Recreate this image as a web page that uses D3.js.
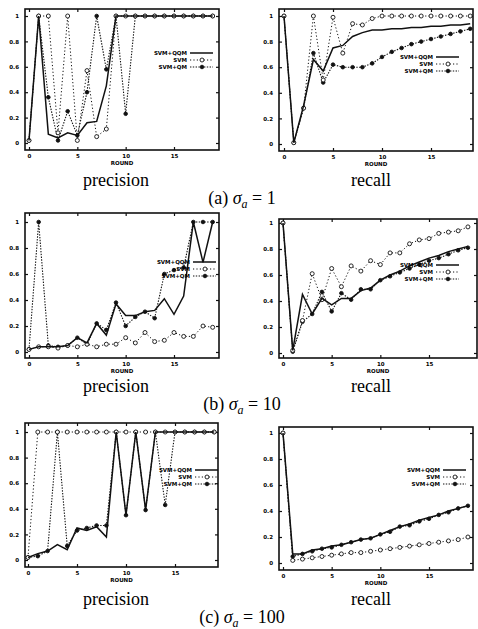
<!DOCTYPE html>
<html>
<head>
<meta charset="utf-8">
<script src="https://cdn.jsdelivr.net/npm/d3@7"></script>
<style>
  body { margin: 0; background: #fff; }
  .tick text { font-family: "DejaVu Sans", sans-serif; font-weight: bold; font-size: 5.5px; }
  .caption { font-family: "Liberation Serif", "DejaVu Serif", serif; font-size: 18px; }
</style>
</head>
<body>
<div class="figure"></div>
<script>
const rounds = [0, 1, 2, 3, 4, 5, 6, 7, 8, 9, 10, 11, 12, 13, 14, 15, 16, 17, 18, 19];
const yTicks = [0, 0.2, 0.4, 0.6, 0.8, 1];
const xTicks = [0, 5, 10, 15];
const seriesNames = ["SVM+QQM", "SVM", "SVM+QM"];

// (a) sigma = 1
const precA_qqm = [0.02, 1.0, 0.07, 0.04, 0.08, 0.06, 0.16, 0.17, 0.45, 1.0, 1.0, 1.0, 1.0, 1.0, 1.0, 1.0, 1.0, 1.0, 1.0, 1.0];
const precA_svm = [0.02, 1.0, 1.0, 0.08, 1.0, 0.02, 0.57, 0.05, 0.11, 1.0, 1.0, 1.0, 1.0, 1.0, 1.0, 1.0, 1.0, 1.0, 1.0, 1.0];
const precA_qm  = [0.02, 1.0, 0.36, 0.02, 0.25, 0.06, 0.40, 1.0, 0.58, 1.0, 0.23, 1.0, 1.0, 1.0, 1.0, 1.0, 1.0, 1.0, 1.0, 1.0];
const recA_qqm  = [1.0, 0.01, 0.30, 0.66, 0.57, 0.75, 0.77, 0.84, 0.87, 0.89, 0.89, 0.90, 0.90, 0.91, 0.91, 0.92, 0.92, 0.93, 0.93, 0.94];
const recA_svm  = [1.0, 0.01, 0.28, 1.0, 0.50, 0.99, 0.71, 0.94, 0.93, 0.98, 1.0, 1.0, 1.0, 1.0, 1.0, 1.0, 1.0, 1.0, 1.0, 1.0];
const recA_qm   = [1.0, 0.01, 0.28, 0.71, 0.48, 0.62, 0.60, 0.60, 0.60, 0.63, 0.68, 0.72, 0.75, 0.78, 0.80, 0.82, 0.84, 0.86, 0.88, 0.90];

// (b) sigma = 10
const precB_qqm = [0.02, 0.04, 0.04, 0.04, 0.05, 0.11, 0.07, 0.22, 0.13, 0.37, 0.28, 0.28, 0.31, 0.32, 0.41, 0.29, 0.43, 1.0, 0.69, 1.0];
const precB_svm = [0.02, 0.04, 0.04, 0.03, 0.05, 0.04, 0.06, 0.04, 0.06, 0.06, 0.11, 0.07, 0.15, 0.08, 0.09, 0.15, 0.12, 0.12, 0.20, 0.19];
const precB_qm  = [0.02, 1.0, 0.05, 0.04, 0.05, 0.11, 0.06, 0.22, 0.17, 0.38, 0.20, 0.27, 0.31, 0.26, 0.60, 0.63, 0.65, 1.0, 1.0, 1.0];
const recB_qqm  = [1.0, 0.02, 0.45, 0.30, 0.42, 0.37, 0.42, 0.42, 0.48, 0.50, 0.56, 0.60, 0.63, 0.67, 0.70, 0.73, 0.75, 0.78, 0.80, 0.82];
const recB_svm  = [1.0, 0.02, 0.25, 0.61, 0.41, 0.65, 0.51, 0.67, 0.63, 0.71, 0.68, 0.77, 0.77, 0.84, 0.87, 0.88, 0.92, 0.93, 0.94, 0.97];
const recB_qm   = [1.0, 0.01, 0.24, 0.30, 0.47, 0.32, 0.46, 0.41, 0.49, 0.49, 0.56, 0.59, 0.62, 0.65, 0.68, 0.71, 0.73, 0.76, 0.79, 0.81];

// (c) sigma = 100
const precC_qqm = [0.02, 0.05, 0.07, 0.12, 0.08, 0.25, 0.23, 0.26, 0.18, 1.0, 0.35, 1.0, 0.39, 1.0, 1.0, 1.0, 1.0, 1.0, 1.0, 1.0];
const precC_svm = [0.02, 1.0, 1.0, 1.0, 1.0, 1.0, 1.0, 1.0, 1.0, 1.0, 1.0, 1.0, 1.0, 1.0, 1.0, 1.0, 1.0, 1.0, 1.0, 1.0];
const precC_qm  = [0.02, 0.03, 0.07, 1.0, 0.11, 0.23, 0.25, 0.27, 0.27, 1.0, 0.35, 1.0, 0.39, 1.0, 0.43, 1.0, 1.0, 1.0, 1.0, 1.0];
const recC_qqm  = [1.0, 0.07, 0.07, 0.10, 0.11, 0.13, 0.14, 0.16, 0.18, 0.19, 0.22, 0.25, 0.28, 0.30, 0.33, 0.35, 0.37, 0.40, 0.42, 0.44];
const recC_svm  = [1.0, 0.02, 0.03, 0.04, 0.05, 0.06, 0.07, 0.08, 0.08, 0.09, 0.10, 0.11, 0.12, 0.13, 0.14, 0.15, 0.16, 0.17, 0.18, 0.20];
const recC_qm   = [1.0, 0.05, 0.07, 0.09, 0.11, 0.12, 0.14, 0.16, 0.18, 0.19, 0.22, 0.24, 0.28, 0.29, 0.32, 0.34, 0.37, 0.39, 0.42, 0.44];

const panels = [
  { series: [precA_qqm, precA_svm, precA_qm], left: 25, right: 219, top: 9, bottom: 150, x0: 29, x15: 174, y0: 143, y1: 16, legX: 187, legY: 53 },
  { series: [recA_qqm, recA_svm, recA_qm], left: 279, right: 473, top: 9, bottom: 151, x0: 284, x15: 431, y0: 144, y1: 16, legX: 433, legY: 57 },
  { series: [precB_qqm, precB_svm, precB_qm], left: 25, right: 219, top: 213, bottom: 358, x0: 29, x15: 174, y0: 352, y1: 222, legX: 190, legY: 262 },
  { series: [recB_qqm, recB_svm, recB_qm], left: 279, right: 477, top: 219, bottom: 358, x0: 283, x15: 429, y0: 353, y1: 223, legX: 433, legY: 265 },
  { series: [precC_qqm, precC_svm, precC_qm], left: 25, right: 218, top: 423, bottom: 567, x0: 28, x15: 175, y0: 560, y1: 432, legX: 192, legY: 470 },
  { series: [recC_qqm, recC_svm, recC_qm], left: 279, right: 473, top: 427, bottom: 570, x0: 283, x15: 429, y0: 563, y1: 433, legX: 440, legY: 470 }
];

const captions = [
  { sub: "1", y: 186 },
  { sub: "10", y: 392 },
  { sub: "100", y: 605 }
];
const captionLetters = ["(a)", "(b)", "(c)"];

const styles = [
  { dash: null, width: 1.5, marker: null },
  { dash: "1.2,2.2", width: 1, marker: "open" },
  { dash: "1.4,1.4", width: 1.1, marker: "filled" }
];

const svg = d3.select(".figure")
  .append("svg")
  .attr("width", 478)
  .attr("height", 629);

svg.append("rect").attr("width", 478).attr("height", 629).attr("fill", "#fff");

const drawMarkers = (g, pts, marker, r) => {
  g.selectAll(null)
    .data(pts)
    .enter()
    .append("circle")
    .attr("cx", d => d[0])
    .attr("cy", d => d[1])
    .attr("r", marker === "open" ? r : r * 0.9)
    .attr("fill", marker === "open" ? "#fff" : "#111")
    .attr("stroke", "#111")
    .attr("stroke-width", 0.9);
}

const drawPanel = p => {
  const x = d3.scaleLinear().domain([0, 15]).range([p.x0, p.x15]);
  const y = d3.scaleLinear().domain([0, 1]).range([p.y0, p.y1]);
  const g = svg.append("g");

  // gnuplot style: ticks point inward on every side
  g.append("g")
    .attr("transform", `translate(${p.left},0)`)
    .call(d3.axisLeft(y).tickValues(yTicks).tickSize(-3).tickPadding(6).tickFormat(d => d));
  g.append("g")
    .attr("transform", `translate(${p.right},0)`)
    .call(d3.axisRight(y).tickValues(yTicks).tickSize(-3).tickFormat(""));
  g.append("g")
    .attr("transform", `translate(0,${p.bottom})`)
    .call(d3.axisBottom(x).tickValues(xTicks).tickSize(-3).tickPadding(4));
  g.append("g")
    .attr("transform", `translate(0,${p.top})`)
    .call(d3.axisTop(x).tickValues(xTicks).tickSize(-3).tickFormat(""));

  g.selectAll(".domain").remove();
  g.selectAll(".tick line").attr("stroke", "#111").attr("stroke-width", 1.2);

  g.append("rect")
    .attr("x", p.left).attr("y", p.top)
    .attr("width", p.right - p.left).attr("height", p.bottom - p.top)
    .attr("fill", "none").attr("stroke", "#111").attr("stroke-width", 1.6);

  g.append("text")
    .attr("x", (p.left + p.right) / 2)
    .attr("y", p.bottom + 15)
    .attr("text-anchor", "middle")
    .style("font-family", "DejaVu Sans, sans-serif")
    .style("font-weight", "bold")
    .style("font-size", "5.5px")
    .text("ROUND");

  const line = d3.line().x((d, i) => x(rounds[i])).y(d => y(d));

  // draw back to front: SVM+QM, SVM, then solid SVM+QQM
  [2, 1, 0].forEach(k => {
    const s = styles[k];
    g.append("path")
      .attr("d", line(p.series[k]))
      .attr("fill", "none")
      .attr("stroke", "#111")
      .attr("stroke-width", s.width)
      .attr("stroke-dasharray", s.dash);
    if (s.marker) {
      drawMarkers(g, p.series[k].map((v, i) => [x(rounds[i]), y(v)]), s.marker, 2);
    }
  });

  // legend
  seriesNames.forEach((name, k) => {
    const s = styles[k];
    const ly = p.legY + k * 7;
    g.append("text")
      .attr("x", p.legX)
      .attr("y", ly)
      .attr("dy", "0.35em")
      .attr("text-anchor", "end")
      .style("font-family", "DejaVu Sans, sans-serif")
      .style("font-weight", "bold")
      .style("font-size", "5.5px")
      .text(name);
    g.append("line")
      .attr("x1", p.legX + 3).attr("x2", p.legX + 26)
      .attr("y1", ly).attr("y2", ly)
      .attr("stroke", "#111")
      .attr("stroke-width", s.width)
      .attr("stroke-dasharray", s.dash);
    if (s.marker) drawMarkers(g, [[p.legX + 15, ly]], s.marker, 2);
  });
}

panels.forEach(drawPanel);

captions.forEach((c, i) => {
  svg.append("text").attr("class", "caption")
    .attr("x", 116).attr("y", c.y).attr("text-anchor", "middle").text("precision");
  svg.append("text").attr("class", "caption")
    .attr("x", 371).attr("y", c.y).attr("text-anchor", "middle").text("recall");

  const t = svg.append("text").attr("class", "caption")
    .attr("x", 242).attr("y", c.y + 17.5).attr("text-anchor", "middle");
  t.append("tspan").text(captionLetters[i] + " ");
  t.append("tspan").style("font-style", "italic").text("σ");
  t.append("tspan").style("font-style", "italic").style("font-size", "12px").attr("dy", 4).text("a");
  t.append("tspan").attr("dy", -4).text(" = " + c.sub);
});
</script>
</body>
</html>
